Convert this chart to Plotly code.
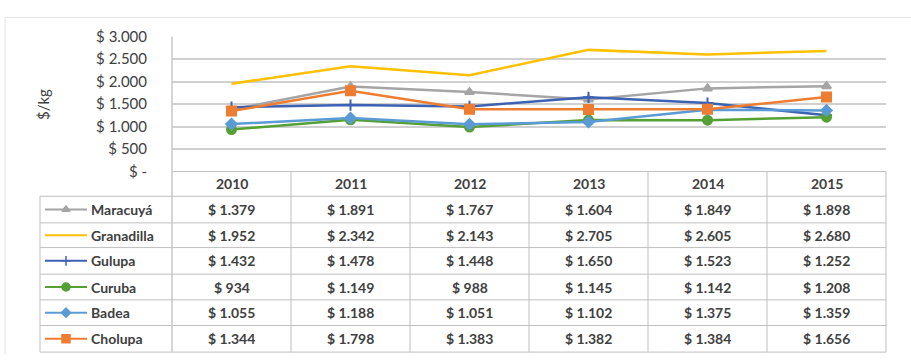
import plotly.graph_objects as go

years = ["2010", "2011", "2012", "2013", "2014", "2015"]
series_names = ["Maracuyá", "Granadilla", "Gulupa", "Curuba", "Badea", "Cholupa"]
maracuya = [1379, 1891, 1767, 1604, 1849, 1898]
granadilla = [1952, 2342, 2143, 2705, 2605, 2680]
gulupa = [1432, 1478, 1448, 1650, 1523, 1252]
curuba = [934, 1149, 988, 1145, 1142, 1208]
badea = [1055, 1188, 1051, 1102, 1375, 1359]
cholupa = [1344, 1798, 1383, 1382, 1384, 1656]
y_tickvals = [0, 500, 1000, 1500, 2000, 2500, 3000]
y_ticktext = ["$ -", "$ 500", "$ 1.000", "$ 1.500", "$ 2.000", "$ 2.500", "$ 3.000"]

all_values = [maracuya, granadilla, gulupa, curuba, badea, cholupa]
colors = ["#A5A5A5", "#FFC000", "#3D62B3", "#55A035", "#5B9BD5", "#ED7D31"]
symbols = ["triangle-up", None, "cross-thin-open", "circle", "diamond", "square"]
msizes = [8, 0, 8, 9, 8, 9]

W, H = 911, 362
FONT = "Lato"
TXT = "#404040"


def px(x):
    return x / W


def py(y):
    return 1 - y / H


def money(v):
    return "$ " + f"{v:,}".replace(",", ".")


fig = go.Figure()

# data lines
for name, vals, c, s, ms in zip(series_names, all_values, colors, symbols, msizes):
    mode = "lines+markers" if s else "lines"
    marker = dict(color=c, size=ms, symbol=s, line=dict(color=c, width=2)) if s else None
    fig.add_trace(go.Scatter(x=years, y=vals, name=name, mode=mode,
                             line=dict(color=c, width=2.5), marker=marker,
                             showlegend=False, xaxis="x", yaxis="y"))

# table geometry (pixels)
col_edges = [172, 291, 410, 529, 648, 767, 886]
row_edges = [170, 196, 224, 250, 278, 305, 332, 360]
table_left = 40
grid = "#BFBFBF"

shapes = []
shapes.append(dict(type="line", xref="paper", yref="paper", x0=px(172), x1=px(886),
                   y0=py(170), y1=py(170), line=dict(color=grid, width=1)))
for r in row_edges[1:]:
    shapes.append(dict(type="line", xref="paper", yref="paper", x0=px(table_left), x1=px(886),
                       y0=py(r), y1=py(r), line=dict(color=grid, width=1)))
shapes.append(dict(type="line", xref="paper", yref="paper", x0=px(table_left), x1=px(table_left),
                   y0=py(196), y1=py(360), line=dict(color=grid, width=1)))
shapes.append(dict(type="line", xref="paper", yref="paper", x0=px(172), x1=px(172),
                   y0=py(28), y1=py(360), line=dict(color="#C8C8C8", width=1.5)))
for cx in col_edges[1:]:
    shapes.append(dict(type="line", xref="paper", yref="paper", x0=px(cx), x1=px(cx),
                       y0=py(170), y1=py(360), line=dict(color=grid, width=1)))
shapes.append(dict(type="line", xref="paper", yref="paper", x0=px(5), x1=px(911),
                   y0=py(8), y1=py(8), line=dict(color="#E3E3E3", width=1)))
shapes.append(dict(type="line", xref="paper", yref="paper", x0=px(5), x1=px(5),
                   y0=py(8), y1=py(362), line=dict(color="#E3E3E3", width=1)))

annotations = []
for i, yr in enumerate(years):
    cx = (col_edges[i] + col_edges[i + 1]) / 2
    annotations.append(dict(text=yr, x=px(cx), y=py(183), xref="paper", yref="paper",
                            showarrow=False, xanchor="center", yanchor="middle",
                            font=dict(family=FONT, size=14, color=TXT, weight="bold")))
for ri, (name, vals, c, s, ms) in enumerate(zip(series_names, all_values, colors, symbols, msizes)):
    yc = (row_edges[ri + 1] + row_edges[ri + 2]) / 2
    annotations.append(dict(text=name, x=px(89), y=py(yc), xref="paper", yref="paper",
                            showarrow=False, xanchor="left", yanchor="middle",
                            font=dict(family=FONT, size=14, color=TXT, weight="bold")))
    for ci, v in enumerate(vals):
        cx = (col_edges[ci] + col_edges[ci + 1]) / 2
        annotations.append(dict(text=money(v), x=px(cx), y=py(yc), xref="paper", yref="paper",
                                showarrow=False, xanchor="center", yanchor="middle",
                                font=dict(family=FONT, size=14, color=TXT, weight="bold")))
    # legend key: line + single centre marker on a pixel overlay axis
    fig.add_trace(go.Scatter(x=[45, 87], y=[yc, yc], mode="lines",
                             line=dict(color=c, width=2),
                             showlegend=False, hoverinfo="skip", xaxis="x2", yaxis="y2"))
    if s:
        fig.add_trace(go.Scatter(x=[66], y=[yc], mode="markers",
                                 marker=dict(color=c, size=ms - 1, symbol=s, line=dict(color=c, width=1.5)),
                                 showlegend=False, hoverinfo="skip", xaxis="x2", yaxis="y2"))

annotations.append(dict(text="$/kg", x=px(43), y=py(100), xref="paper", yref="paper",
                        showarrow=False, textangle=-90, xanchor="center", yanchor="middle",
                        font=dict(family=FONT, size=15, color=TXT)))

fig.update_layout(
    width=W, height=H,
    margin=dict(l=0, r=0, t=0, b=0),
    paper_bgcolor="white", plot_bgcolor="rgba(0,0,0,0)",
    showlegend=False,
    xaxis=dict(domain=[px(172), px(886)], type="category", range=[-0.5, 5.5],
               showticklabels=False, showgrid=False, zeroline=False, showline=False, ticks=""),
    yaxis=dict(domain=[py(170), py(28)], range=[0, 3000],
               tickvals=y_tickvals, ticktext=y_ticktext,
               showgrid=True, gridcolor="#D0D0D0", gridwidth=2, zeroline=False, showline=False,
               ticks="outside", ticklen=21, tickcolor="rgba(0,0,0,0)",
               tickfont=dict(family=FONT, size=15, color=TXT)),
    xaxis2=dict(domain=[0, 1], range=[0, W], visible=False, fixedrange=True),
    yaxis2=dict(domain=[0, 1], range=[H, 0], visible=False, fixedrange=True),
    shapes=shapes,
    annotations=annotations,
)

fig.write_html("out.html")
